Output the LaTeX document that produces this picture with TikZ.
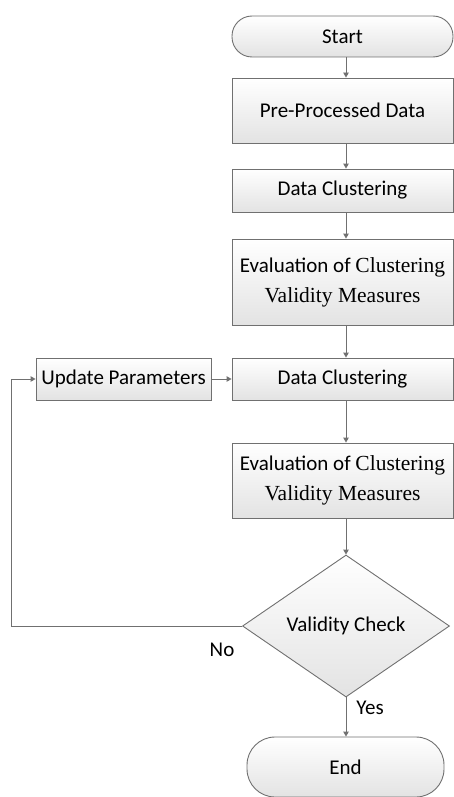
\documentclass[tikz,border=0pt]{standalone}
\usepackage{fontspec}
\setmainfont{Carlito}
\newfontfamily\serifa{Liberation Serif}
\usetikzlibrary{shapes.geometric,arrows.meta,shadings}
\definecolor{lc}{HTML}{707070}
\tikzset{
  box/.style={draw=lc, line width=0.9pt, top color=white, bottom color=black!11, inner sep=0pt, minimum width=221pt, align=center, font=\fontsize{21}{30}\selectfont},
  term/.style={box, rounded corners=20pt},
  dec/.style={draw=lc, line width=0.9pt, diamond, top color=white, bottom color=black!11, inner sep=0pt, minimum width=207pt, minimum height=142pt, font=\fontsize{21}{25}\selectfont},
  arr/.style={draw=lc, line width=0.9pt, -{Triangle[width=5.5pt,length=5pt]}},
  lbl/.style={font=\fontsize{21}{25}\selectfont, inner sep=0pt},
  ser/.style={}
}
\newcommand{\srf}[1]{{\serifa\fontsize{21.5}{30}\selectfont #1}}
\begin{document}
\begin{tikzpicture}[x=1pt,y=1pt]
\useasboundingbox (0,0) rectangle (454,-797);
\node[term, minimum height=41pt] (start) at (342.5,-36.5) {Start};
\node[box, minimum height=65pt] (pre) at (342.5,-110.5) {Pre-Processed Data};
\node[box, minimum height=43pt] (dc1) at (342.5,-190.5) {Data Clustering};
\node[box, minimum height=86pt] (ev1) at (342.5,-282) {Evaluation of \srf{Clustering}\\\srf{Validity Measures}};
\node[box, minimum height=42pt] (dc2) at (342.5,-379) {Data Clustering};
\node[box, minimum height=42pt, minimum width=175pt] (upd) at (123.5,-379) {Update Parameters};
\node[box, minimum height=75pt] (ev2) at (342.5,-480.5) {Evaluation of \srf{Clustering}\\\srf{Validity Measures}};
\node[dec] (chk) at (346,-626) {Validity Check};
\node[term, rounded corners=28pt, minimum height=60pt, minimum width=197pt] (end) at (345.5,-767) {End};
\coordinate (lt) at (11,-626);
\coordinate (lb) at (11,-379);
\draw[arr] (start.south -| chk.north) -- (pre.north -| chk.north);
\draw[arr] (pre.south -| chk.north) -- (dc1.north -| chk.north);
\draw[arr] (dc1.south -| chk.north) -- (ev1.north -| chk.north);
\draw[arr] (ev1.south -| chk.north) -- (dc2.north -| chk.north);
\draw[arr] (dc2.south -| chk.north) -- (ev2.north -| chk.north);
\draw[arr] (ev2.south -| chk.north) -- (chk.north);
\draw[arr] (chk.south) -- (end.north -| chk.south);
\draw[arr] (upd.east) -- (dc2.west);
\draw[arr] (chk.west) -- (lt) -- (lb) -- (upd.west);
\node[lbl] (no) at (222,-650) {No};
\node[lbl] (yes) at (370,-708) {Yes};
\end{tikzpicture}
\end{document}
